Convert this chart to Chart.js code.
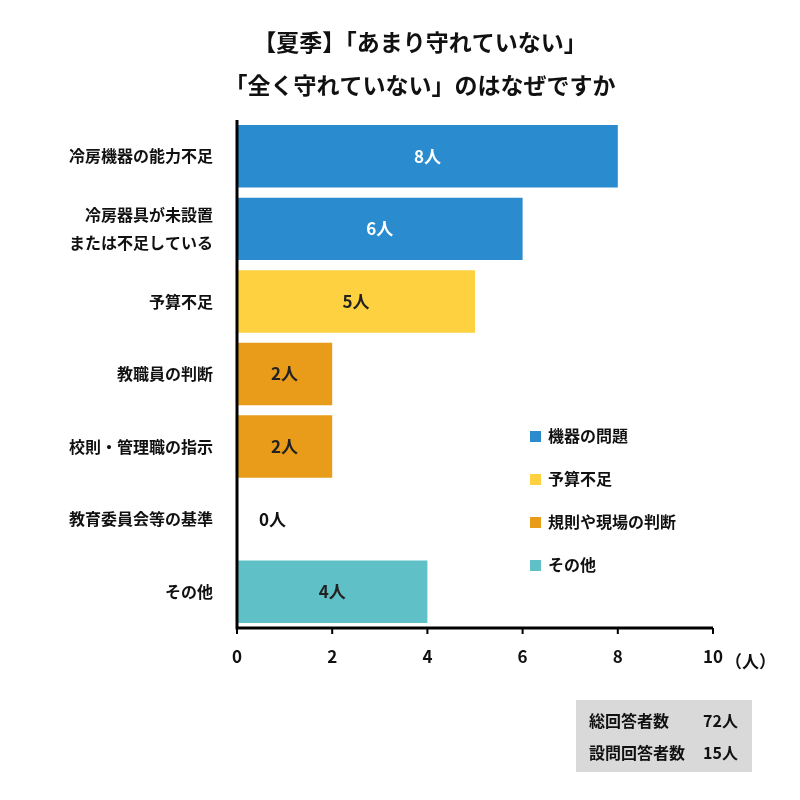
<!DOCTYPE html><html><head><meta charset="utf-8">
<script src="https://cdn.jsdelivr.net/npm/chart.js@4"></script>
<style>body{margin:0;background:#fff}canvas{display:block}</style></head><body>
<div style="width:800px;height:800px"><canvas id="c"></canvas></div>
<script>
const categories=[["冷房機器の能力不足"],["冷房器具が未設置","または不足している"],["予算不足"],["教職員の判断"],["校則・管理職の指示"],["教育委員会等の基準"],["その他"]];
const values=[8,6,5,2,2,0,4];
const groups=[0,0,1,2,2,2,3];
const groupNames=["機器の問題","予算不足","規則や現場の判断","その他"];
const groupColors=["#2a8ccf","#fdd13f","#e89c1a","#5fc0c8"];
const titleLines=["【夏季】「あまり守れていない」","「全く守れていない」のはなぜですか"];
const infoLines=[["総回答者数","72人"],["設問回答者数","15人"]];
const F='"Noto Sans CJK JP", "Noto Sans", sans-serif';
const deco={id:'deco',afterDraw(ch){const c=ch.ctx,ca=ch.chartArea,xs=ch.scales.x;c.save();
c.fillStyle='#111';c.font='bold 23px '+F;c.textAlign='center';c.textBaseline='middle';
c.fillText(titleLines[0],420,42);c.fillText(titleLines[1],420,85);
c.strokeStyle='#000';c.lineWidth=3;c.beginPath();c.moveTo(ca.left,ca.top);c.lineTo(ca.left,ca.bottom);c.lineTo(ca.right,ca.bottom);c.stroke();
c.lineWidth=2;for(let v=0;v<=10;v+=2){const x=xs.getPixelForValue(v);c.beginPath();c.moveTo(x,ca.bottom);c.lineTo(x,ca.bottom+6);c.stroke();}
c.font='bold 17px '+F;c.textAlign='left';c.fillText('（人）',xs.getPixelForValue(10)+12,662);
const m=ch.getDatasetMeta(0);m.data.forEach((b,i)=>{const v=values[i];c.font='bold 17px '+F;
if(v===0){c.fillStyle='#111';c.textAlign='left';c.fillText(v+'人',b.base+22,b.y);}
else{c.fillStyle=groups[i]===0?'#fff':'#222';c.textAlign='center';c.fillText(v+'人',(b.base+b.x)/2,b.y);}});
c.textAlign='left';groupNames.forEach((n,i)=>{const y=436+i*43;c.fillStyle=groupColors[i];c.fillRect(530,y-5,11,11);c.fillStyle='#111';c.font='bold 16px '+F;c.fillText(n,548,y);});
c.fillStyle='#d9d9d9';c.fillRect(576,700,176,72);c.fillStyle='#111';c.font='bold 16px '+F;
infoLines.forEach((r,i)=>{const y=721+i*32;c.textAlign='left';c.fillText(r[0],589,y);c.fillText(r[1],703,y);});
c.restore();}};
new Chart(document.getElementById('c'),{type:'bar',plugins:[deco],
data:{labels:categories,datasets:[{data:values,backgroundColor:values.map((v,i)=>groupColors[groups[i]]),barPercentage:0.86,categoryPercentage:1}]},
options:{indexAxis:'y',responsive:true,maintainAspectRatio:false,animation:false,
layout:{padding:{top:120,right:87,bottom:132,left:0}},
plugins:{legend:{display:false},tooltip:{enabled:false}},
scales:{x:{min:0,max:10,ticks:{stepSize:2,color:'#111',font:{family:F,size:17,weight:'bold'},padding:10},grid:{display:false},border:{display:false},afterFit(s){s.height=40;}},
y:{ticks:{color:'#111',font:{family:F,size:16,weight:'bold',lineHeight:1.8},padding:16},grid:{display:false},border:{display:false},afterFit(s){s.width=237;}}}}});
</script></body></html>
